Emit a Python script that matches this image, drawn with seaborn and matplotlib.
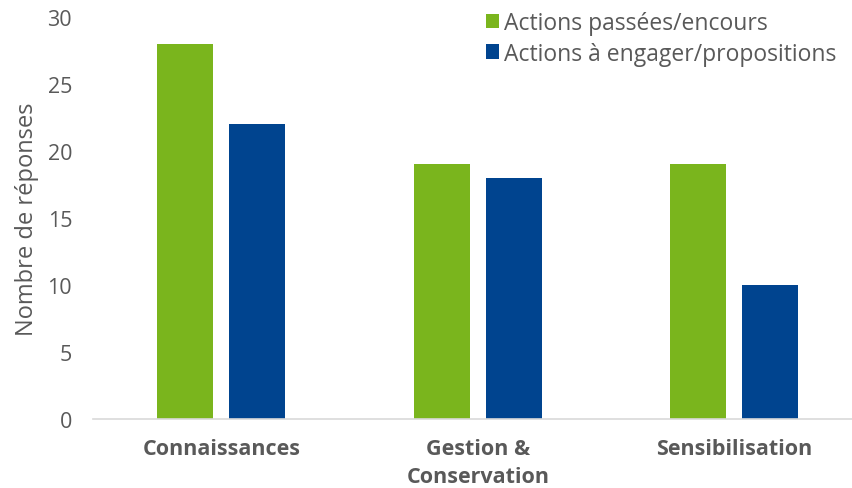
import pandas as pd
import seaborn as sns
import matplotlib.pyplot as plt
from matplotlib.patches import Patch

# data
categories = ['Connaissances', 'Gestion &\nConservation', 'Sensibilisation']
series = ['Actions passées/encours', 'Actions à engager/propositions']
passees = [28, 19, 19]
engager = [22, 18, 10]
colors = ['#7AB51D', '#00448F']
txt = '#595959'

df = pd.DataFrame({
    'categorie': categories * 2,
    'serie': [series[0]] * 3 + [series[1]] * 3,
    'valeur': passees + engager,
})

sns.set_style('white')
plt.rcParams['font.family'] = ['Open Sans', 'DejaVu Sans']

fig = plt.figure(figsize=(8.52, 4.89), dpi=100)
ax = fig.add_axes([93 / 852, 1 - 420 / 489, 1 - 93 / 852, (420 - 18) / 489])

sns.barplot(data=df, x='categorie', y='valeur', hue='serie', palette=colors,
            width=0.56, gap=0.222, ax=ax, legend=False, saturation=1,
            linewidth=0)

ax.set_ylim(0, 30)
ax.set_xlim(-0.5, -0.5 + 759 / 256.5)
ax.set_yticks(range(0, 31, 5))
ax.tick_params(axis='y', labelsize=15.5, colors=txt, length=0, pad=15)
ax.tick_params(axis='x', labelsize=15.5, colors=txt, length=0, pad=14)
for lab in ax.get_xticklabels():
    lab.set_fontweight('bold')
    lab.set_linespacing(1.4)
ax.set_xlabel('')
ax.set_ylabel('Nombre de réponses', fontsize=17, color=txt, labelpad=6)

for s in ['top', 'right', 'left']:
    ax.spines[s].set_visible(False)
ax.spines['bottom'].set_color('#d9d9d9')
ax.spines['bottom'].set_linewidth(1.2)

handles = [Patch(facecolor=c, edgecolor='none') for c in colors]
leg = ax.legend(handles, series, loc='upper left', bbox_to_anchor=(472 / 852, 1.004),
                bbox_transform=fig.transFigure, frameon=False, fontsize=16.5,
                handlelength=0.58, handleheight=0.58, handletextpad=0.22,
                labelspacing=0.3, borderaxespad=0.2)
for t in leg.get_texts():
    t.set_color(txt)

fig.savefig('out.png', dpi=100)
